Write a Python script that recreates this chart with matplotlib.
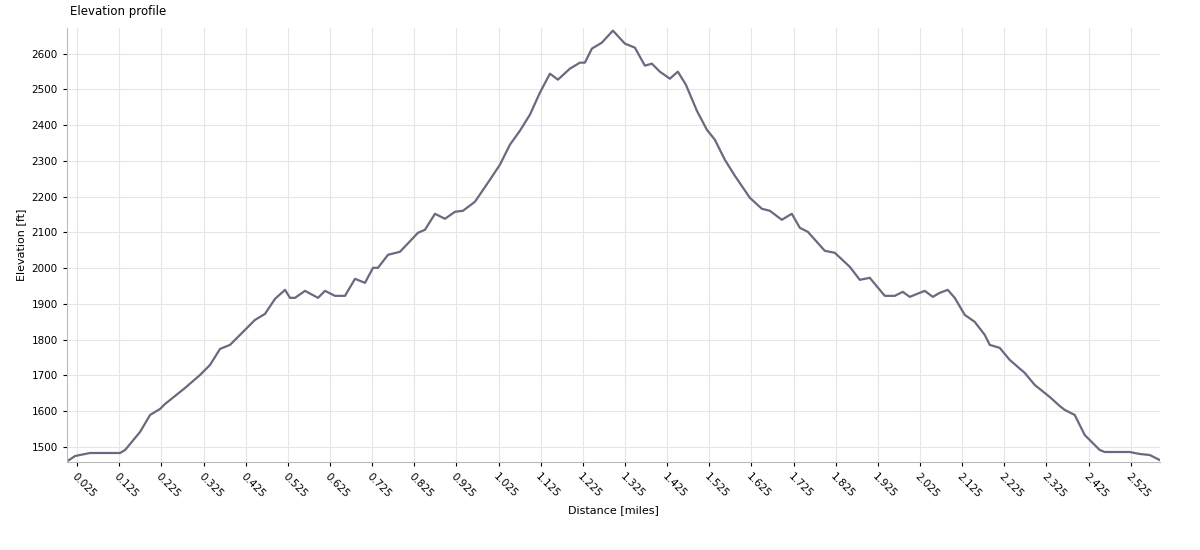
import matplotlib
matplotlib.use("Agg")
import matplotlib.pyplot as plt
import numpy as np

px = [66,75,80,90,120,125,140,150,160,165,170,185,200,210,220,230,245,255,265,275,285,290,295,305,318,325,335,345,355,365,373,378,388,400,418,425,435,445,455,463,475,490,500,510,520,530,540,550,558,570,580,585,592,602,613,625,635,645,652,660,670,678,686,697,707,715,725,735,750,762,770,782,792,800,808,825,835,850,860,870,885,895,903,910,925,933,940,948,955,965,975,985,990,1000,1010,1025,1035,1050,1060,1065,1075,1085,1095,1100,1105,1130,1140,1150,1160]
py = [462,456,455,453,453,450,432,415,409,404,400,388,375,365,349,345,330,320,314,299,290,298,298,291,298,291,296,296,279,283,268,268,255,252,233,230,214,219,212,211,202,180,165,145,131,115,93,74,80,69,63,63,49,43,31,44,48,66,64,72,79,72,85,111,130,140,160,176,198,209,211,220,214,228,232,251,253,267,280,278,296,296,292,297,291,297,293,290,298,315,322,335,345,348,360,373,385,397,406,410,415,435,445,450,452,452,454,455,460]
distance = [round((p-66.5)/421.6, 4) for p in px]
elevation = [round(1500+(447-q)/0.3573, 1) for q in py]
ticks = [0.025 + 0.1*i for i in range(26)]
tick_labels = [f"{t:.3f}" for t in ticks]

fig = plt.figure(figsize=(12, 5.5), dpi=100)
ax = fig.add_axes([0.0555, 0.16, 0.911, 0.79])
ax.plot(distance, elevation, color="#6b6880", lw=1.6)
ax.set_xlim(0, 2.594)
ax.set_ylim(1458, 2673)
ax.set_xticks(ticks)
ax.set_xticklabels(tick_labels, rotation=-45, ha="left", rotation_mode="anchor", fontsize=7.5)
ax.set_yticks(range(1500, 2601, 100))
ax.tick_params(axis="y", labelsize=7.5, length=3)
ax.tick_params(axis="x", length=3)
ax.grid(True, color="#e6e6e6", lw=0.8)
ax.set_axisbelow(True)
for s in ["top", "right"]:
    ax.spines[s].set_visible(False)
for s in ["left", "bottom"]:
    ax.spines[s].set_color("#bbbbbb")
ax.set_xlabel("Distance [miles]", fontsize=8)
ax.set_ylabel("Elevation [ft]", fontsize=8)
fig.text(0.058, 0.98, "Elevation profile", fontsize=8.5, va="center")
fig.savefig("out.png")
